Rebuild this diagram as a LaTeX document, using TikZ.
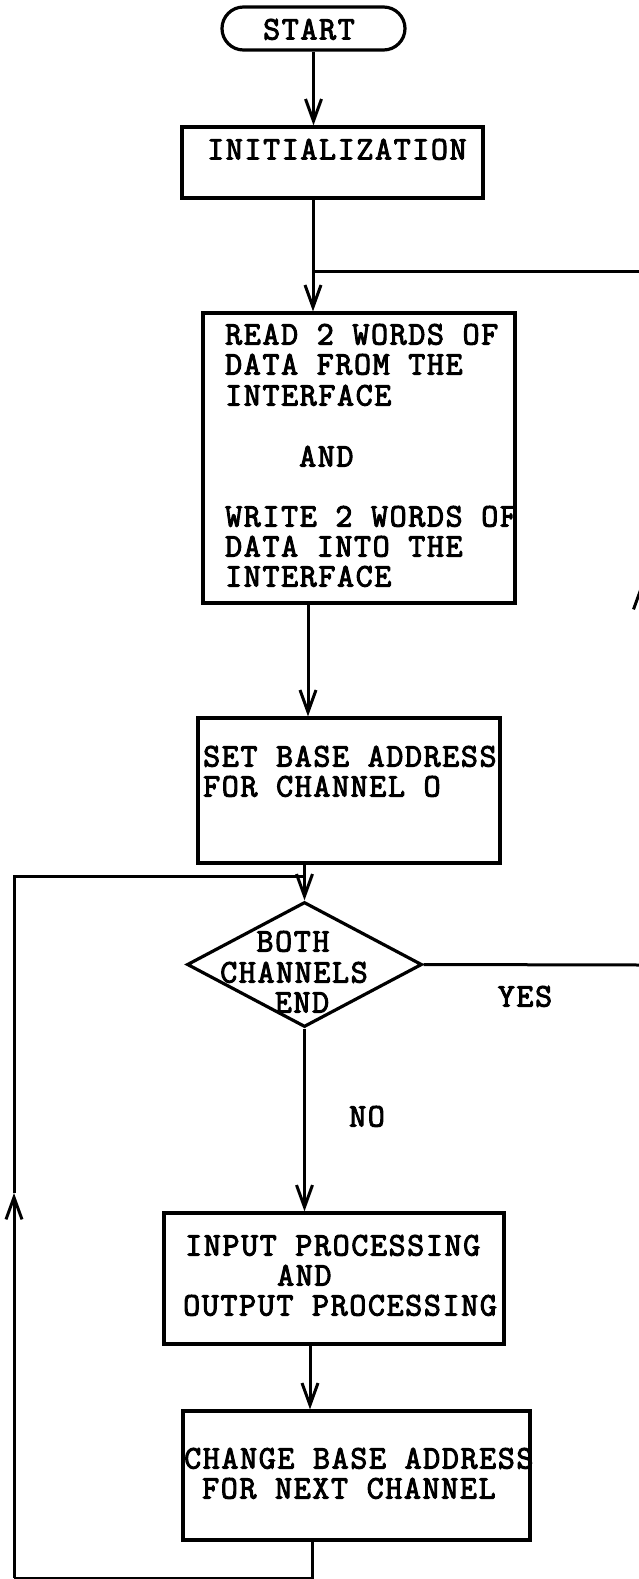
\documentclass[tikz,border=0pt]{standalone}
\usepackage{fontspec}
\newfontfamily\tw{Latin Modern Mono}[FakeBold=3,LetterSpace=5]
\usetikzlibrary{arrows.meta,shapes.geometric}
\begin{document}
\begin{tikzpicture}[x=1pt,y=-1pt,
  lw/.style={line width=3pt},
  box/.style={draw, line width=3.2pt, rectangle, inner sep=0pt},
  txt/.style={font=\tw\fontsize{33}{30}\selectfont, inner sep=0pt, text height=19pt, text depth=0pt},
  arr/.style={line width=3pt, -{Straight Barb[length=22pt,width=16pt,line width=3pt]}}
]
\useasboundingbox (0,0) rectangle (638,1579);

% boxes
\node[box, rounded corners=21.5pt, minimum width=183pt, minimum height=43pt] (start) at (313.5,28.5) {};
\node[txt, anchor=west] (tstart) at (263,30) {START};

\node[box, minimum width=301pt, minimum height=71pt] (init) at (332.5,162.5) {};
\node[txt, anchor=west] (tinit) at (207,150) {INITIALIZATION};

\node[box, minimum width=312pt, minimum height=290pt] (read) at (359,458) {};
\node[txt, anchor=west] (r1) at (225,335) {READ 2 WORDS OF};
\node[txt, anchor=west] (r2) at (225,365) {DATA FROM THE};
\node[txt, anchor=west] (r3) at (225,396) {INTERFACE};
\node[txt, anchor=west] (r4) at (299,457) {AND};
\node[txt, anchor=west] (r5) at (225,517) {WRITE 2 WORDS OF};
\node[txt, anchor=west] (r6) at (225,547) {DATA INTO THE};
\node[txt, anchor=west] (r7) at (225,577) {INTERFACE};

\node[box, minimum width=302pt, minimum height=145pt] (set) at (349,790.5) {};
\node[txt, anchor=west] (s1) at (203,757) {SET BASE ADDRESS};
\node[txt, anchor=west] (s2) at (203,787) {FOR CHANNEL O};

\node[draw, diamond, line width=3.2pt, inner sep=0pt, minimum width=235pt, minimum height=125pt] (dec) at (304.5,964.5) {};
\node[txt] (d1) at (293,942) {BOTH};
\node[txt] (d2) at (294,973) {CHANNELS};
\node[txt] (d3) at (302,1003) {END};

\node[box, minimum width=340pt, minimum height=131pt] (input) at (334,1278.5) {};
\node[txt, anchor=west] (i1) at (185,1246) {INPUT PROCESSING};
\node[txt, anchor=west] (i2) at (277,1276) {AND};
\node[txt, anchor=west] (i3) at (183,1306) {OUTPUT PROCESSING};

\node[box, minimum width=347pt, minimum height=129pt] (change) at (356.5,1475.5) {};
\node[txt, anchor=west] (c1) at (184,1459) {CHANGE BASE ADDRESS};
\node[txt, anchor=west] (c2) at (202,1489) {FOR NEXT CHANNEL};

\node[txt] (yes) at (525,997) {YES};
\node[txt] (no) at (367,1117) {NO};

% coordinates
\coordinate (j1) at (313,271);
\coordinate (a2) at (308,0);
\coordinate (a6) at (310,0);
\coordinate (b1) at (312,1578);
\coordinate (b2) at (14,1578);
\coordinate (m1) at (14,1193);
\coordinate (b3) at (14,876);
\coordinate (q1) at (641.5,965);
\coordinate (q2) at (641.5,583);
\coordinate (q3) at (641.5,271);

% connectors
\draw[arr] (start.south) -- (start.south |- init.north);
\draw[lw] (init.south -| j1) -- (j1);
\draw[arr] (j1) -- (j1 |- read.north);
\draw[arr] (read.south -| a2) -- (set.north -| a2);
\draw[arr] (set.south -| dec.north) -- (dec.north);
\draw[arr] (dec.south) -- (dec.south |- input.north);
\draw[arr] (input.south -| a6) -- (change.north -| a6);
\draw[lw] (change.south -| b1) -- (b1) -- (b2);
\draw[arr] (b2) -- (m1);
\draw[lw] (m1) -- (b3) -- (b3 -| dec.north);
\draw[arr] (dec.east) -- (q1) -- (q2);
\draw[lw] (q2) -- (q3) -- (j1);
\end{tikzpicture}
\end{document}
